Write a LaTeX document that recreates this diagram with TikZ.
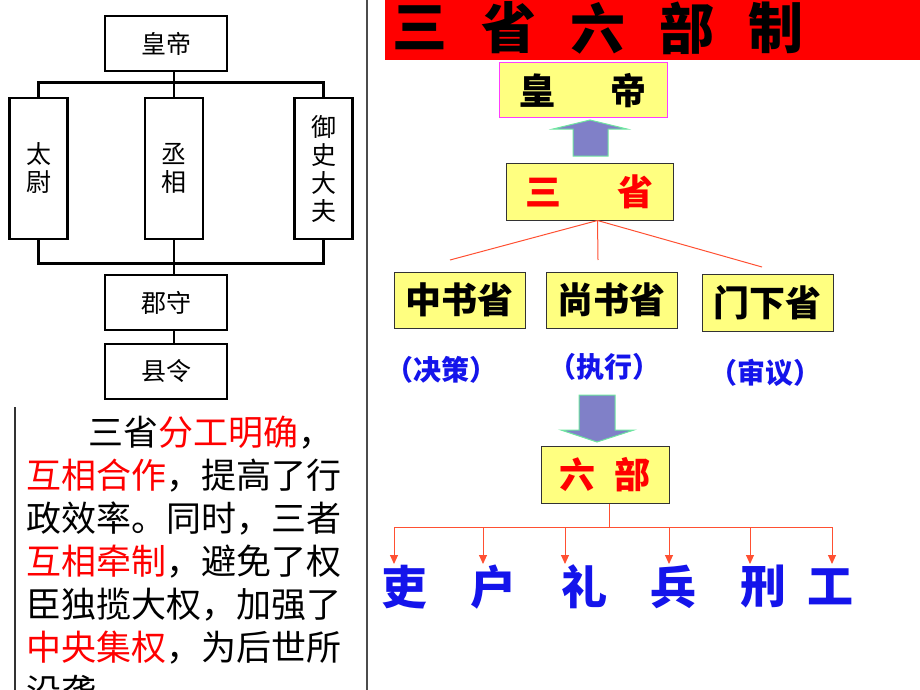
\documentclass[tikz,border=0pt]{standalone}
\usepackage{fontspec}
\newfontfamily\cjk{Noto Sans CJK SC}
\usetikzlibrary{arrows.meta}
\definecolor{boxyellow}{RGB}{255,255,128}
\definecolor{arrowfill}{RGB}{128,128,200}
\definecolor{arrowedge}{RGB}{110,230,160}
\definecolor{linkred}{RGB}{255,80,50}
\definecolor{wordblue}{RGB}{20,20,235}
\definecolor{hdedge}{RGB}{255,60,255}
\tikzset{
  oldbox/.style={draw,line width=2.8pt,minimum width=122pt,minimum height=55pt,inner sep=0pt,font=\cjk\fontsize{25}{28}\selectfont},
  tallbox/.style={draw,line width=2.8pt,minimum width=58pt,minimum height=141pt,inner sep=0pt,align=center,font=\cjk\fontsize{25}{28}\selectfont},
  newbox/.style={draw=black!80,fill=boxyellow,line width=1pt,inner sep=0pt,font=\cjk\bfseries\fontsize{36}{40}\selectfont},
  noteline/.style={anchor=west,inner sep=0pt,font=\cjk\fontsize{35}{40}\selectfont},
  note/.style={text=wordblue,font=\cjk\bfseries\fontsize{28}{30}\selectfont},
  bu/.style={text=wordblue,inner sep=0pt,font=\cjk\bfseries\fontsize{46}{50}\selectfont},
  blockarrow/.style={fill=arrowfill,draw=arrowedge,line width=1pt},
  link/.style={linkred,line width=1pt}
}
\begin{document}
\begin{tikzpicture}[x=1pt,y=-1pt]
\useasboundingbox (0,0) rectangle (920,690);

% Qin-Han chart
\node[oldbox] (hd) at (166,43.5) {皇帝};
\node[tallbox] (tw) at (38.5,168.5) {太\\尉};
\node[tallbox] (xiang) at (174,168.5) {丞\\相};
\node[tallbox] (ys) at (323.5,168.5) {御\\史\\大\\夫};
\node[oldbox] (jun) at (166,302.5) {郡守};
\node[oldbox] (xian) at (166,371.5) {县令};
\draw[line width=2.8pt] (hd.south -| xiang) -- (xiang.north);
\draw[line width=2.8pt] (tw.north) -- ++(0,-14) -| (ys.north);
\draw[line width=2.8pt] (tw.south) -- ++(0,23) -| (ys.south);
\draw[line width=2.8pt] (xiang.south) -- (jun.north -| xiang);
\draw[line width=2.8pt] (jun.south -| xiang) -- (xian.north -| xiang);
\draw[black!70,line width=1.5pt] (367,0) -- (367,690);
\draw[black!80,line width=1.5pt] (15,407) -- (15,690);

% comment text
\node[noteline] (l1) at (88,433) {三省\textcolor{red}{分工明确}，};
\node[noteline] (l2) at (26,476) {\textcolor{red}{互相合作}，提高了行};
\node[noteline] (l3) at (26,519) {政效率。同时，三者};
\node[noteline] (l4) at (26,562) {\textcolor{red}{互相牵制}，避免了权};
\node[noteline] (l5) at (26,605) {臣独揽大权，加强了};
\node[noteline] (l6) at (26,648) {\textcolor{red}{中央集权}，为后世所};
\node[noteline] (l7) at (26,691) {沿袭。};

% title
\fill[red] (385,0) rectangle (920,60);
\foreach \c [count=\i] in {三,省,六,部,制}
  \node[font=\cjk\bfseries\fontsize{55}{60}\selectfont] (t\i) at (420+89*\i-89,28) {\c};

% Sui-Tang chart
\node[newbox,draw=hdedge,minimum width=168pt,minimum height=55pt] (hd2) at (583,90.5) {皇\hspace{56pt}帝\hspace{20pt}};
\node[newbox,text=red,minimum width=167pt,minimum height=57pt] (ss) at (589.5,191.5) {三\hspace{56pt}省\hspace{17pt}};
\node[newbox,minimum width=131pt,minimum height=56pt] (zs) at (459.5,300) {中书省};
\node[newbox,minimum width=131pt,minimum height=56pt] (sh) at (611.5,300) {尚书省};
\node[newbox,minimum width=131pt,minimum height=57pt] (mx) at (767.5,302.5) {门下省};
\node[note] (n1) at (441,370) {（决策）};
\node[note] (n2) at (604,367) {（执行）};
\node[note] (n3) at (765,373) {（审议）};
\node[newbox,text=red,minimum width=128pt,minimum height=57pt] (lb) at (605,474.5) {六\hspace{20pt}部\hspace{16pt}};

\fill[blockarrow] (573,156) -- (573,129) -- (553,129) -- (590,120) -- (627,129) -- (608,129) -- (608,156) -- cycle;
\fill[blockarrow] (579,395) -- (579,430) -- (561,430) -- (597,442) -- (634,430) -- (615,430) -- (615,395) -- cycle;

\coordinate (fork) at ([xshift=8pt]ss.south);
\coordinate (e1) at (450,260);
\coordinate (e2) at (598,260);
\coordinate (e3) at (762,267);
\draw[link] (fork) -- (e1);
\draw[link] (fork) -- (e2);
\draw[link] (fork) -- (e3);

% six ministries
\foreach \w/\x in {吏/404,户/493,礼/584,兵/673,刑/763,工/830}
  \node[bu] (\w) at (\x,587) {\w};
\coordinate (bar) at (609,527);
\draw[link] ([xshift=4pt]lb.south) -- (bar);
\draw[link] (394,527) -- (832,527);
\foreach \w/\x in {吏/394,户/483,礼/565,兵/669,刑/750,工/832}
  \draw[link,-{Triangle[width=8pt,length=9pt]}] (\x,527) -- (\x,564);
\end{tikzpicture}
\end{document}
